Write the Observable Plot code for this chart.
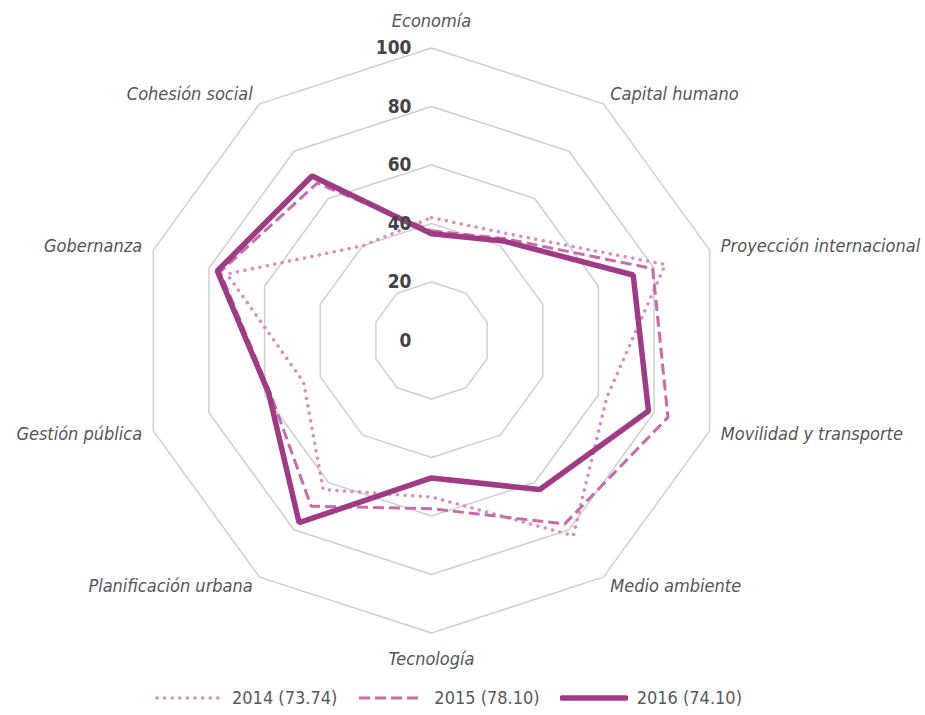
<!DOCTYPE html>
<html><head><meta charset="utf-8">
<script src="https://cdn.jsdelivr.net/npm/d3@7"></script>
<script src="https://cdn.jsdelivr.net/npm/@observablehq/plot@0.6"></script>
<style>
body{margin:0;background:#fff;font-family:"Liberation Sans Narrow","DejaVu Sans Condensed",sans-serif;}
#chart svg{display:block}
#legend{display:flex;align-items:center;height:35px;padding-left:155px;color:#595959;font-size:18px;}
.item{display:flex;align-items:center;margin-right:20px}
.item svg{margin-right:9px}
</style></head><body><div id="chart"></div><div id="legend"></div>
<script>
const axes = ["Economía","Capital humano","Proyección internacional","Movilidad y transporte","Medio ambiente","Tecnología","Planificación urbana","Gestión pública","Gobernanza","Cohesión social"];
const years = ["2014","2015","2016"];
const legendScores = ["73.74","78.10","74.10"];
const v2014 = [42, 45, 84, 63, 82.5, 53.5, 63, 46, 73.5, 40];
const v2015 = [37.5, 43, 79.5, 85, 77.5, 57.5, 70, 58, 76, 66.5];
const v2016 = [36.5, 42, 72.5, 78, 63, 47, 77, 58.5, 77, 69.5];
const ringLevels = [20, 40, 60, 80, 100];
const tickLabels = [0, 20, 40, 60, 80, 100];

const series = {"2014": v2014, "2015": v2015, "2016": v2016};
const styles = {
  "2014": {stroke: "#d68fbf", strokeWidth: 3.5, strokeDasharray: "0.1,7.5", strokeLinecap: "round", strokeLinejoin: "round"},
  "2015": {stroke: "#c96ba9", strokeWidth: 3, strokeDasharray: "11,5", strokeLinecap: "butt", strokeLinejoin: "miter"},
  "2016": {stroke: "#9f3b85", strokeWidth: 5.5, strokeLinecap: "butt", strokeLinejoin: "miter"}
};

const N = axes.length;
const ang = i => i * 2 * Math.PI / N;
const px = (r, i) => r * Math.sin(ang(i));
const py = (r, i) => r * Math.cos(ang(i));

const W = 925, H = 680, CX = 431, CY = 340, K = 2.925;

const rings = ringLevels.flatMap(level => axes.map((a, i) => ({level, i})));
const pts = years.flatMap(y => series[y].map((v, i) => ({year: y, axis: axes[i], i, v})));
const labs = axes.map((a, i) => ({a, i, s: Math.sin(ang(i))}));
const sideR = 104, endR = 109;

const marks = [
  Plot.line(rings, {x: d => px(d.level, d.i), y: d => py(d.level, d.i), z: "level", curve: "linear-closed", stroke: "#cfcfcf", strokeWidth: 1.5})
];
for (const y of years) {
  marks.push(Plot.line(pts.filter(d => d.year === y), {x: d => px(d.v, d.i), y: d => py(d.v, d.i), curve: "linear-closed", ...styles[y]}));
}
const labelStyle = {fontSize: 18, fontStyle: "italic", fill: "#555", fontFamily: "Liberation Sans Narrow, DejaVu Sans Condensed, sans-serif"};
marks.push(
  Plot.text(labs.filter(d => Math.abs(d.s) < 0.1), {x: d => px(endR, d.i), y: d => py(endR, d.i), text: "a", textAnchor: "middle", ...labelStyle}),
  Plot.text(labs.filter(d => d.s >= 0.1), {x: d => px(sideR, d.i), y: d => py(sideR, d.i), text: "a", textAnchor: "start", ...labelStyle}),
  Plot.text(labs.filter(d => d.s <= -0.1), {x: d => px(sideR, d.i), y: d => py(sideR, d.i), text: "a", textAnchor: "end", ...labelStyle}),
  Plot.text(tickLabels, {x: 0, y: d => d, text: d => String(d), dx: -20, textAnchor: "end", fontSize: 19, fontWeight: "bold", fill: "#444", fontFamily: "Liberation Sans Narrow, DejaVu Sans Condensed, sans-serif"})
);

const chart = Plot.plot({
  width: W, height: H, margin: 0,
  x: {domain: [-CX / K, (W - CX) / K], range: [0, W], axis: null},
  y: {domain: [-(H - CY) / K, CY / K], range: [H, 0], axis: null},
  marks
});
document.getElementById("chart").appendChild(chart);

const legend = document.getElementById("legend");
years.forEach((y, k) => {
  const st = styles[y];
  const item = document.createElement("div");
  item.className = "item";
  const w = 68;
  item.innerHTML = `<svg width="${w}" height="10"><line x1="2" y1="5" x2="${w - 2}" y2="5" stroke="${st.stroke}" stroke-width="${st.strokeWidth}" stroke-dasharray="${st.strokeDasharray || "none"}" stroke-linecap="${y === "2016" ? "round" : st.strokeLinecap}"/></svg><span>${y} (${legendScores[k]})</span>`;
  legend.appendChild(item);
});
</script></body></html>
